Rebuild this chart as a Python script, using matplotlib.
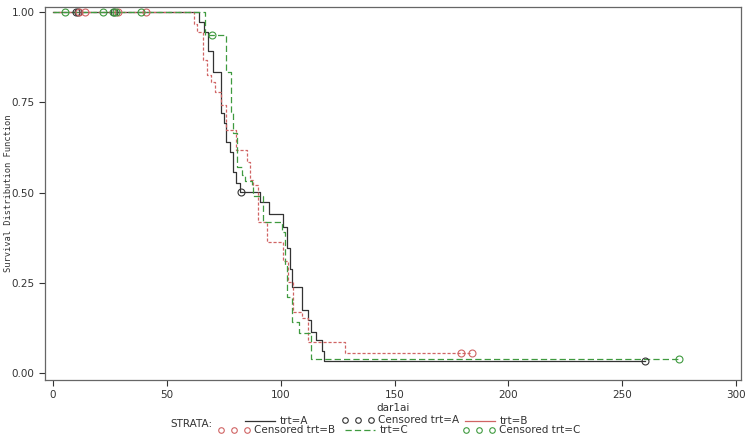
import numpy as np
import matplotlib.pyplot as plt
from matplotlib.lines import Line2D

# step curves: event times and survival after each step
tA = [0, 64.3, 66.3, 68.2, 70.4, 74.0, 75.1, 76.0, 77.7, 78.9, 80.4, 82.1, 90.9,
      94.9, 101.2, 102.6, 104.0, 104.8, 109.2, 112.1, 113.2, 115.5, 118.0, 119.2, 260]
sA = [1.0, 0.972, 0.944, 0.892, 0.834, 0.72, 0.692, 0.64, 0.613, 0.557, 0.526, 0.502, 0.475,
      0.44, 0.405, 0.346, 0.29, 0.239, 0.176, 0.147, 0.114, 0.091, 0.062, 0.033, 0.033]

tB = [0, 61.9, 63.4, 66.0, 67.5, 69.2, 71.1, 73.6, 76.0, 80.4, 85.0, 86.5, 87.7, 89.9,
      93.8, 101.2, 103.4, 105.5, 109.2, 112.1, 128.2, 184]
sB = [1.0, 0.966, 0.945, 0.867, 0.825, 0.807, 0.78, 0.742, 0.673, 0.618, 0.585, 0.535, 0.52, 0.419,
      0.364, 0.31, 0.253, 0.17, 0.152, 0.087, 0.057, 0.057]

tC = [0, 66.8, 75.8, 78.2, 79.2, 81.0, 82.9, 84.3, 87.3, 88.0, 92.4, 100.4, 101.9,
      102.6, 104.8, 108.2, 113.5, 275]
sC = [1.0, 0.936, 0.835, 0.724, 0.665, 0.572, 0.548, 0.532, 0.519, 0.49, 0.419, 0.391, 0.30,
      0.211, 0.142, 0.11, 0.038, 0.038]

# censored observations
cA_t = [10, 11, 27, 82.6, 260]
cA_s = [1.0, 1.0, 1.0, 0.502, 0.033]
cB_t = [11.5, 14, 28.5, 41, 179, 184]
cB_s = [1.0, 1.0, 1.0, 1.0, 0.057, 0.057]
cC_t = [5.3, 22, 26.5, 27.5, 38.5, 70, 275]
cC_s = [1.0, 1.0, 1.0, 1.0, 1.0, 0.936, 0.038]

colA = '#333333'
colB = '#d06464'
colC = '#3f9a3f'

fig = plt.figure(figsize=(7.49, 4.44), dpi=100)
ax = fig.add_axes([0.060, 0.144, 0.929, 0.840])

ax.step(tA, sA, where='post', color=colA, lw=0.9)
ax.step(tB, sB, where='post', color=colB, lw=0.9, ls=(0, (2.5, 1.5)))
ax.step(tC, sC, where='post', color=colC, lw=0.9, ls=(0, (5, 2.5)))

ax.plot(cA_t, cA_s, 'o', mfc='none', mec=colA, ms=5, mew=0.8)
ax.plot(cB_t, cB_s, 'o', mfc='none', mec=colB, ms=5, mew=0.8)
ax.plot(cC_t, cC_s, 'o', mfc='none', mec=colC, ms=5, mew=0.8)

ax.set_xlim(-3.5, 302)
ax.set_ylim(-0.019, 1.014)
ax.set_xticks([0, 50, 100, 150, 200, 250, 300])
ax.set_yticks([0, 0.25, 0.5, 0.75, 1.0])
ax.set_yticklabels(['0.00', '0.25', '0.50', '0.75', '1.00'])
ax.tick_params(labelsize=7.5, colors='#333333', length=4, width=0.8)
for sp in ax.spines.values():
    sp.set_color('#666666')
    sp.set_linewidth(0.9)

ax.set_xlabel('dar1ai', fontsize=7.5, color='#333333', labelpad=1.5)
ax.set_ylabel('Survival Distribution Function', fontsize=6.3, color='#333333',
              family='DejaVu Sans Mono', va='center')
ax.yaxis.set_label_coords(-0.053, 0.5)

# legend drawn by hand to follow the SAS layout
W, H = 749.0, 444.0
def fx(p): return p / W
def fy(p): return 1 - p / H

fs = 7.5
fig.text(fx(170), fy(424), 'STRATA:', fontsize=fs, color='#333333', va='center')

def line_item(x0, y, col, ls, label):
    fig.add_artist(Line2D([fx(x0), fx(x0 + 30)], [fy(y), fy(y)], color=col, lw=0.9, ls=ls))
    fig.text(fx(x0 + 35), fy(y), label, fontsize=fs, color='#333333', va='center')

def circ_item(x0, y, col, label):
    fig.add_artist(Line2D([fx(x0), fx(x0 + 13), fx(x0 + 26)], [fy(y)] * 3, ls='none', marker='o',
                          mfc='none', mec=col, ms=4, mew=0.8))
    fig.text(fx(x0 + 33), fy(y), label, fontsize=fs, color='#333333', va='center')

line_item(245, 421, colA, '-', 'trt=A')
circ_item(345, 420, colA, 'Censored trt=A')
line_item(465, 421, colB, '-', 'trt=B')
circ_item(221, 430, colB, 'Censored trt=B')
line_item(345, 430, colC, (0, (5, 2.5)), 'trt=C')
circ_item(466, 430, colC, 'Censored trt=C')

fig.savefig('out.png', dpi=100)
